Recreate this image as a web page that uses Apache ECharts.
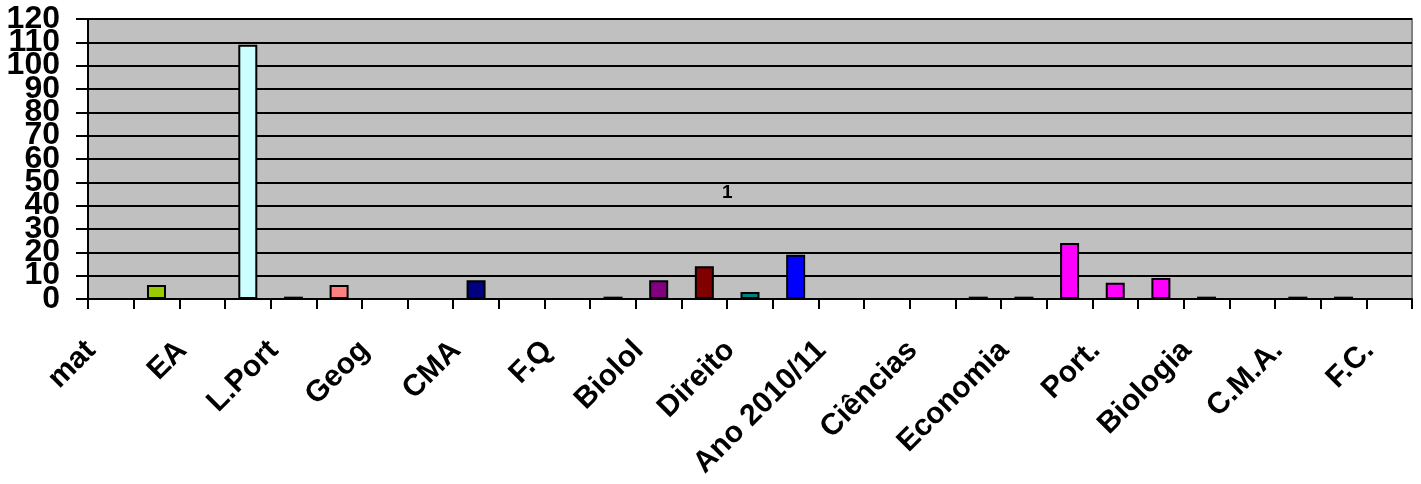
<!DOCTYPE html>
<html>
<head>
<meta charset="utf-8">
<script src="https://cdn.jsdelivr.net/npm/echarts@6/dist/echarts.min.js"></script>
<style>
html,body{margin:0;padding:0;background:#fff;}
#chart{width:1421px;height:484px;}
</style>
</head>
<body>
<div id="chart"></div>
<script>
// 29 categories, every other one labelled
const categories = ['mat','', 'EA','', 'L.Port','', 'Geog','', 'CMA','', 'F.Q','', 'Biolol','', 'Direito','', 'Ano 2010/11','', 'Ciências','', 'Economia','', 'Port.','', 'Biologia','', 'C.M.A.','', 'F.C.'];
const values = [0, 6, 0, 109, 1, 6, 0, 0, 8, 0, 0, 1, 8, 14, 3, 19, 0, 0, 0, 1, 1, 24, 7, 9, 1, 0, 1, 1, 0];
const barColors = ['#9999FF','#99CC00','#FFFFCC','#CCFFFF','#660066','#FF8080','#0066CC','#CCCCFF','#000080','#FF00FF','#FFFF00','#00FFFF','#800080','#800000','#008080','#0000FF','#00CCFF','#CCFFFF','#CCFFCC','#FFFF99','#99CCFF','#FF00FF','#FF00FF','#FF00FF','#3366FF','#33CCCC','#99CC00','#FFCC00','#FF9900'];
const yTicks = {min: 0, max: 120, interval: 10};
// y tick labels, drawn on two overlaid axes so that the tightly packed labels are all shown
const yLabelsEven = ['0', '20', '40', '60', '80', '100', '120'];
const yLabelsOdd = ['10', '30', '50', '70', '90', '110'];
const seriesName = '1';

const FONT = "'Liberation Sans', Arial, sans-serif";
const yLabelStyle = {margin: 28, color: '#000', fontFamily: FONT, fontWeight: 'bold', fontSize: 32,
  showMinLabel: true, showMaxLabel: true};
const chart = echarts.init(document.getElementById('chart'));
chart.setOption({
  animation: false,
  backgroundColor: '#ffffff',
  grid: {
    left: 88, right: 9, top: 19, bottom: 185,
    show: true, backgroundColor: '#C0C0C0', borderColor: '#808080', borderWidth: 2
  },
  xAxis: {
    type: 'category',
    data: categories,
    boundaryGap: true,
    axisLine: {show: true, lineStyle: {color: '#000', width: 2}},
    axisTick: {show: true, interval: 0, length: 10, lineStyle: {color: '#000', width: 2}},
    axisLabel: {
      interval: 1, rotate: 45, margin: 27, padding: [0, 28, 0, 0],
      color: '#000', fontFamily: FONT, fontWeight: 'bold', fontSize: 30
    }
  },
  yAxis: [{
    type: 'value', position: 'left',
    min: yTicks.min, max: yTicks.max, interval: yTicks.interval,
    axisLine: {show: true, lineStyle: {color: '#000', width: 2}},
    axisTick: {show: true, length: 12, lineStyle: {color: '#000', width: 2}},
    splitLine: {show: true, lineStyle: {color: '#000', width: 2}},
    axisLabel: Object.assign({}, yLabelStyle, {
      formatter: v => yLabelsEven.includes(String(v)) ? String(v) : ''
    })
  }, {
    type: 'value', position: 'left',
    min: yTicks.min, max: yTicks.max, interval: yTicks.interval,
    axisLine: {show: false}, axisTick: {show: false}, splitLine: {show: false},
    axisLabel: Object.assign({}, yLabelStyle, {
      formatter: v => yLabelsOdd.includes(String(v)) ? String(v) : ''
    })
  }],
  series: [{
    name: seriesName,
    type: 'bar',
    barWidth: 19,
    yAxisIndex: 0,
    data: values.map((v, i) => ({
      value: v,
      itemStyle: {color: barColors[i], borderColor: '#000', borderWidth: 2}
    }))
  }],
  graphic: [{
    type: 'text',
    left: 722, top: 183,
    style: {text: seriesName, fill: '#000', font: "bold 19px 'Liberation Sans', Arial, sans-serif"}
  }]
});
</script>
</body>
</html>
